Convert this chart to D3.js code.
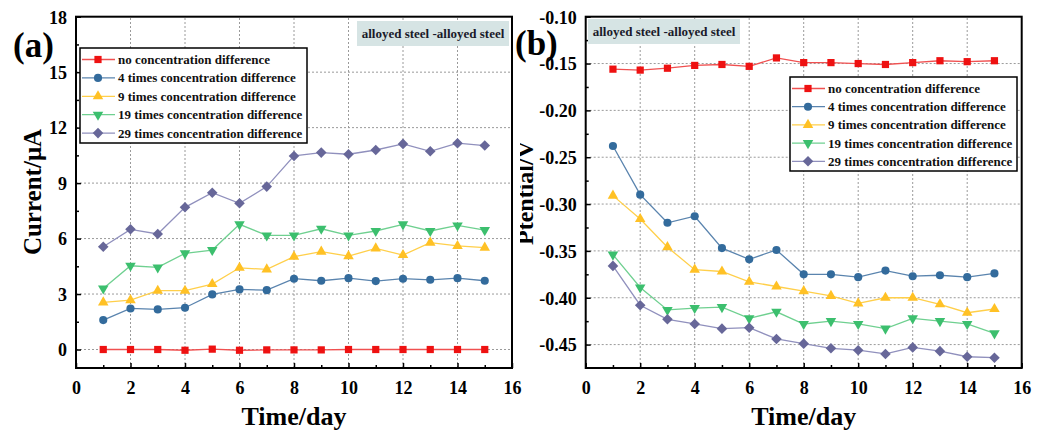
<!DOCTYPE html>
<html>
<head>
<meta charset="utf-8">
<script src="https://cdn.jsdelivr.net/npm/d3@7"></script>
<style>
  body { margin: 0; background: #fff; }
  svg { display: block; font-family: "Liberation Serif", "Times New Roman", serif; font-weight: bold; }
</style>
</head>
<body>
<svg id="chart" width="1040" height="434"></svg>
<script>
// data
const days = [1, 2, 3, 4, 5, 6, 7, 8, 9, 10, 11, 12, 13, 14, 15];
const seriesNames = [
  "no concentration difference",
  "4 times concentration difference",
  "9 times concentration difference",
  "19 times concentration difference",
  "29 times concentration difference"
];

// (a) current, uA
const currentNone = [0, 0, 0, -0.04, 0.02, -0.04, -0.02, -0.02, -0.02, 0, 0, 0, 0, 0, 0];
const current4 = [1.59, 2.22, 2.17, 2.26, 2.98, 3.25, 3.21, 3.83, 3.72, 3.86, 3.70, 3.83, 3.77, 3.86, 3.72];
const current9 = [2.55, 2.67, 3.18, 3.18, 3.54, 4.42, 4.33, 5.02, 5.29, 5.05, 5.47, 5.11, 5.78, 5.60, 5.51];
const current19 = [3.30, 4.53, 4.44, 5.20, 5.38, 6.77, 6.17, 6.17, 6.53, 6.17, 6.41, 6.77, 6.41, 6.71, 6.46];
const current29 = [5.56, 6.50, 6.25, 7.69, 8.48, 7.91, 8.81, 10.47, 10.65, 10.56, 10.79, 11.12, 10.72, 11.16, 11.03];

// (b) potential, V
const potentialNone = [-0.156, -0.157, -0.155, -0.152, -0.151, -0.153, -0.144, -0.149, -0.149, -0.150, -0.151, -0.149, -0.147, -0.148, -0.147];
const potential4 = [-0.238, -0.290, -0.320, -0.313, -0.347, -0.359, -0.349, -0.375, -0.375, -0.378, -0.371, -0.377, -0.376, -0.378, -0.374];
const potential9 = [-0.291, -0.316, -0.346, -0.370, -0.372, -0.383, -0.388, -0.393, -0.398, -0.406, -0.400, -0.400, -0.407, -0.416, -0.412];
const potential19 = [-0.354, -0.389, -0.413, -0.411, -0.410, -0.422, -0.415, -0.428, -0.425, -0.428, -0.433, -0.422, -0.425, -0.428, -0.438];
const potential29 = [-0.366, -0.408, -0.423, -0.428, -0.433, -0.432, -0.444, -0.449, -0.454, -0.456, -0.460, -0.453, -0.457, -0.463, -0.464];

const xTicks = [0, 2, 4, 6, 8, 10, 12, 14, 16];
const xMinorTicks = [1, 3, 5, 7, 9, 11, 13, 15];
const yTicksA = [0, 3, 6, 9, 12, 15, 18];
const yMinorTicksA = [1.5, 4.5, 7.5, 10.5, 13.5, 16.5];
const yTicksB = [-0.45, -0.40, -0.35, -0.30, -0.25, -0.20, -0.15, -0.10];
const yMinorTicksB = [-0.425, -0.375, -0.325, -0.275, -0.225, -0.175, -0.125];

// style per series
const markerColors = ["#ee1111", "#336b9c", "#ffc125", "#3cbf6e", "#676799"];
const lineColors = ["#f05050", "#5a84ae", "#ffcf4a", "#6fd090", "#9090bd"];
const shapes = ["square", "circle", "triangle", "triangleDown", "diamond"];

const svg = d3.select("#chart");

function marker(sel, shape, color) {
  const sym = {
    square: [d3.symbolSquare, 52, 0],
    circle: [d3.symbolCircle, 52, 0],
    triangle: [d3.symbolTriangle, 48, 0],
    triangleDown: [d3.symbolTriangle, 48, 180],
    diamond: [d3.symbolSquare, 56, 45]
  }[shape];
  sel.append("path")
    .attr("d", d3.symbol().type(sym[0]).size(sym[1]))
    .attr("transform", d => `translate(${d[0]},${d[1]}) rotate(${sym[2]})`)
    .attr("fill", color);
}

function drawPanel(opts) {
  const g = svg.append("g");
  const x = d3.scaleLinear().domain([0, 16]).range([opts.left, opts.right]);
  const y = d3.scaleLinear().domain(opts.yDomain).range([368, 16.7]);

  // grid
  g.append("g").selectAll("line")
    .data(xTicks.slice(1, -1))
    .join("line")
    .attr("x1", d => x(d)).attr("x2", d => x(d))
    .attr("y1", y.range()[0]).attr("y2", y.range()[1])
    .attr("stroke", "#9a9a9a").attr("stroke-width", 1).attr("stroke-dasharray", "2,2");
  g.append("g").selectAll("line")
    .data(opts.yTicks.filter(d => d !== opts.yDomain[1]))
    .join("line")
    .attr("x1", opts.left).attr("x2", opts.right)
    .attr("y1", d => y(d)).attr("y2", d => y(d))
    .attr("stroke", "#9a9a9a").attr("stroke-width", 1).attr("stroke-dasharray", "2,2");

  // axes, ticks inward
  const xAxis = g.append("g").attr("transform", "translate(0,368)")
    .call(d3.axisBottom(x).tickValues(xTicks).tickSize(-5).tickPadding(9).tickFormat(d3.format("d")));
  g.append("g").attr("transform", "translate(0,368)")
    .call(d3.axisBottom(x).tickValues(xMinorTicks).tickSize(-3).tickFormat(""));
  const yAxis = g.append("g").attr("transform", `translate(${opts.left},0)`)
    .call(d3.axisLeft(y).tickValues(opts.yTicks).tickSize(-5).tickPadding(9).tickFormat(opts.fmt));
  g.append("g").attr("transform", `translate(${opts.left},0)`)
    .call(d3.axisLeft(y).tickValues(opts.yMinor).tickSize(-3).tickFormat(""));
  g.selectAll(".domain").remove();
  g.selectAll(".tick line").attr("stroke", "#000").attr("stroke-width", 1.5);
  g.selectAll(".tick text")
    .attr("font-family", "'Liberation Serif', 'Times New Roman', serif")
    .attr("font-weight", "bold").attr("font-size", 18).attr("fill", "#000");
  xAxis.selectAll(".tick text").attr("dy", "0.95em");
  yAxis.selectAll(".tick text").attr("dy", "0.35em");

  // frame
  g.append("rect")
    .attr("x", opts.left).attr("y", 16.7)
    .attr("width", opts.right - opts.left).attr("height", 368 - 16.7)
    .attr("fill", "none").attr("stroke", "#000").attr("stroke-width", 2);

  // annotation box
  g.append("rect")
    .attr("x", opts.note[0]).attr("y", opts.note[1])
    .attr("width", 152).attr("height", 25)
    .attr("fill", "#d6e4e4");
  g.append("text")
    .attr("x", opts.note[0] + 76).attr("y", opts.note[1] + 17)
    .attr("text-anchor", "middle").attr("font-size", 13).attr("fill", "#1a1a2a")
    .text("alloyed steel -alloyed steel");

  // series
  opts.series.forEach((vals, i) => {
    const pts = days.map((d, k) => [x(d), y(vals[k])]);
    g.append("path")
      .attr("d", d3.line()(pts))
      .attr("fill", "none").attr("stroke", lineColors[i]).attr("stroke-width", 1.3);
    const mg = g.append("g").selectAll("g").data(pts).join("g");
    marker(mg, shapes[i], markerColors[i]);
  });

  // legend
  const L = opts.legend;
  g.append("rect")
    .attr("x", L.x).attr("y", L.y).attr("width", L.w).attr("height", L.h)
    .attr("fill", "#fff").attr("stroke", "#000").attr("stroke-width", 1.5);
  seriesNames.forEach((name, i) => {
    const cy = L.row0 + i * L.step;
    const row = g.append("g");
    row.append("line")
      .attr("x1", L.x + 2).attr("x2", L.x + 35).attr("y1", cy).attr("y2", cy)
      .attr("stroke", lineColors[i]).attr("stroke-width", 1.3);
    marker(row.append("g").selectAll("g").data([[L.x + 18, cy]]).join("g"), shapes[i], markerColors[i]);
    row.append("text")
      .attr("x", L.x + 38).attr("y", cy + 4.5)
      .attr("font-size", 13).attr("fill", "#111")
      .text(name);
  });

  // x title
  g.append("text")
    .attr("x", (opts.left + opts.right) / 2).attr("y", 425)
    .attr("text-anchor", "middle").attr("font-size", 26).attr("fill", "#000")
    .text("Time/day");

  return g;
}

drawPanel({
  left: 76, right: 512,
  yDomain: [-1, 18], yTicks: yTicksA, yMinor: yMinorTicksA,
  fmt: d3.format("d"),
  note: [357, 21],
  series: [currentNone, current4, current9, current19, current29],
  legend: { x: 80, y: 48, w: 227, h: 95, row0: 59.5, step: 18.4 }
});

drawPanel({
  left: 585.7, right: 1021.7,
  yDomain: [-0.475, -0.10], yTicks: yTicksB, yMinor: yMinorTicksB,
  fmt: d => d.toFixed(2),
  note: [588, 19],
  series: [potentialNone, potential4, potential9, potential19, potential29],
  legend: { x: 790, y: 77, w: 227, h: 94, row0: 88.5, step: 18.2 }
});

// y titles
svg.append("text")
  .attr("transform", "translate(41,192) rotate(-90)")
  .attr("text-anchor", "middle").attr("font-size", 25).attr("fill", "#000")
  .text("Current/\u03bcA");

// the (b) y title is cut on its left edge by panel (a) in the figure
svg.append("clipPath").attr("id", "clipB")
  .append("rect").attr("x", 520).attr("y", 0).attr("width", 60).attr("height", 434);
svg.append("g")
  .attr("clip-path", "url(#clipB)")
  .append("text")
  .attr("transform", "translate(533,193) rotate(-90)")
  .attr("text-anchor", "middle").attr("font-size", 24).attr("fill", "#000")
  .text("Ptential/V");

// panel letters
svg.append("text").attr("x", 13).attr("y", 57)
  .attr("font-size", 35).attr("fill", "#000").text("(a)");
svg.append("text").attr("x", 515).attr("y", 55)
  .attr("font-size", 35).attr("fill", "#000").text("(b)");
</script>
</body>
</html>
